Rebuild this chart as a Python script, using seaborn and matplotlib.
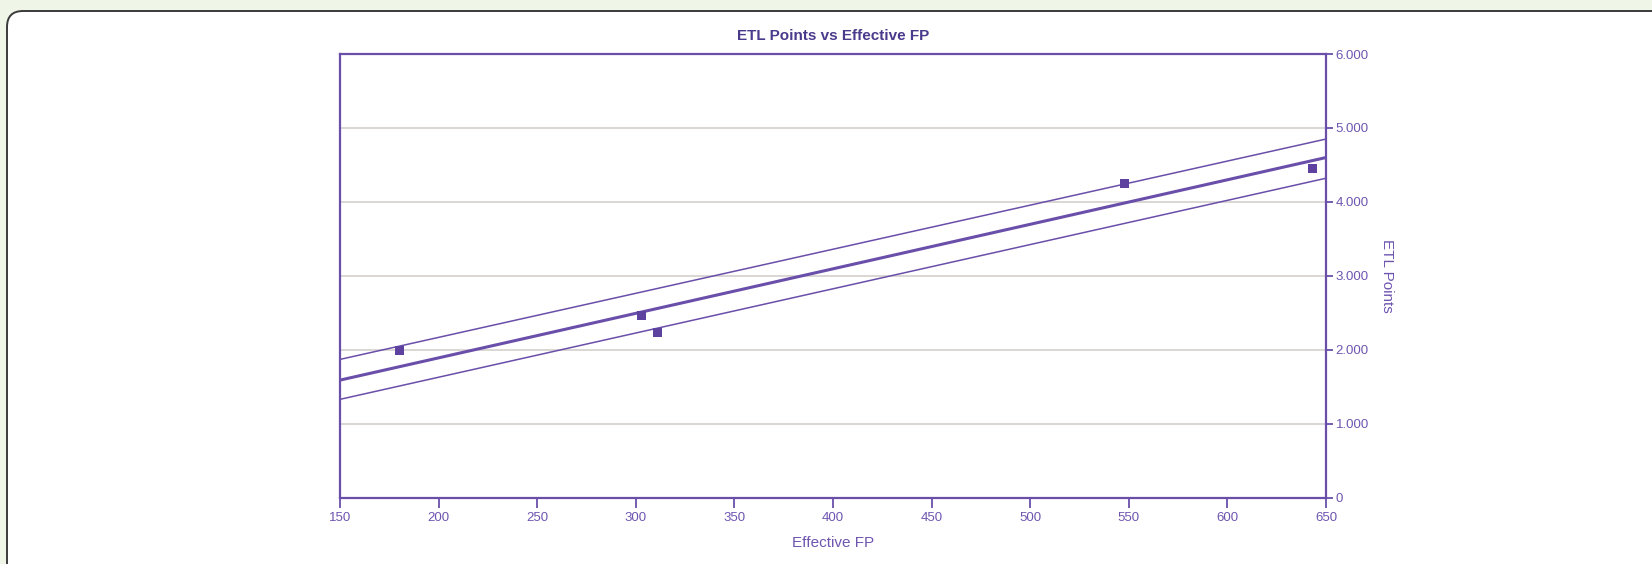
import numpy as np
import pandas as pd
import matplotlib
matplotlib.use("Agg")
import matplotlib.pyplot as plt
from matplotlib.patches import FancyBboxPatch
import seaborn as sns

# DATA
effective_fp=[180,303,311,548,643]
etl_points=[1.985,2.468,2.229,4.245,4.448]
fit_x=[150,650]
fit_y=[1.59,4.60]
upper_y=[1.87,4.85]
lower_y=[1.33,4.32]
x_ticks=[150,200,250,300,350,400,450,500,550,600,650]
y_ticks=[0,1,2,3,4,5,6]
y_tick_labels=["0","1.000","2.000","3.000","4.000","5.000","6.000"]

PURPLE="#6A4FAA"
MARK="#5E429F"
TEXT="#6E55B0"

sns.set_theme(style="white")
plt.rcParams["font.family"]=["Liberation Sans","DejaVu Sans"]

df=pd.DataFrame({"fp":effective_fp,"etl":etl_points})

fig=plt.figure(figsize=(16.52,5.64),dpi=100)
fig.patch.set_facecolor("#EFF6E7")
# rounded white panel
box=FancyBboxPatch((7,-30),1700,564-11+30,boxstyle="round,pad=0,rounding_size=16",
                   transform=None,facecolor="white",edgecolor="#3A3A3A",linewidth=1.4,zorder=-5)
fig.patches.append(box)

ax=fig.add_axes([340/1652,1-497.7/564,986/1652,(497.7-54)/564])
ax.set_zorder(5)
ax.set_facecolor("white")

# grid lines
for yv in y_ticks[1:-1]:
    ax.axhline(yv,color="#D3CFCC",linewidth=1.2,zorder=1)

sns.lineplot(x=fit_x,y=upper_y,ax=ax,color=PURPLE,linewidth=1.1,zorder=2)
sns.lineplot(x=fit_x,y=lower_y,ax=ax,color=PURPLE,linewidth=1.1,zorder=2)
sns.lineplot(x=fit_x,y=fit_y,ax=ax,color=PURPLE,linewidth=2.2,zorder=3)
sns.scatterplot(data=df,x="fp",y="etl",ax=ax,marker="s",s=42,color=MARK,edgecolor="none",zorder=4)

ax.set_xlim(150,650)
ax.set_ylim(0,6)
ax.set_xticks(x_ticks)
ax.set_xticklabels([str(v) for v in x_ticks])
ax.set_yticks(y_ticks)
ax.set_yticklabels(y_tick_labels)
ax.yaxis.tick_right()
ax.yaxis.set_label_position("right")
ax.tick_params(axis="x",bottom=True,direction="out",length=7,width=1.3,color=PURPLE,
               labelcolor=TEXT,labelsize=9.5,pad=3)
ax.tick_params(axis="y",right=True,left=False,direction="out",length=5,width=1.3,color=PURPLE,
               labelcolor=TEXT,labelsize=9.5,pad=2)
for s in ax.spines.values():
    s.set_visible(True)
    s.set_color(PURPLE)
    s.set_linewidth(1.6)

ax.set_xlabel("Effective FP",color=TEXT,fontsize=11,labelpad=9)
ax.set_ylabel("ETL Points",color=TEXT,fontsize=11,rotation=270,labelpad=18)
ax.set_title("ETL Points vs Effective FP",color="#4A3A8C",fontsize=11,fontweight="bold",pad=10)

fig.savefig("out.png",dpi=100,facecolor=fig.get_facecolor())
plt.close()
